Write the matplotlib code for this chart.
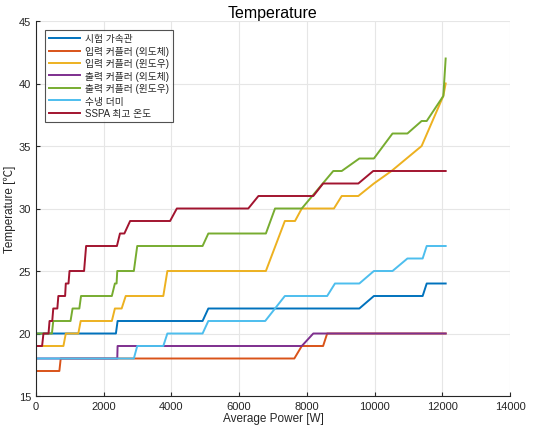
import matplotlib
matplotlib.use("Agg")
import matplotlib.pyplot as plt

plt.rcParams['font.family'] = ['Liberation Sans', 'Noto Sans CJK KR', 'DejaVu Sans']

labels = ['시험 가속관', '입력 커플러 (외도체)', '입력 커플러 (윈도우)', '출력 커플러 (외도체)',
          '출력 커플러 (윈도우)', '수냉 더미', 'SSPA 최고 온도']
colors = ['#0072BD', '#D95319', '#EDB120', '#7E2F8E', '#77AC30', '#4DBEEE', '#A2142F']

# 시험 가속관
accel_x = [0, 2360, 2410, 4920, 5090, 9550, 9980, 11420, 11540, 12100]
accel_y = [20, 20, 21, 21, 22, 22, 23, 23, 24, 24]
# 입력 커플러 (외도체)
in_outer_x = [0, 690, 730, 7630, 7850, 8480, 8600, 12100]
in_outer_y = [17, 17, 18, 18, 19, 19, 20, 20]
# 입력 커플러 (윈도우)
in_win_x = [0, 810, 880, 1250, 1320, 2240, 2330, 2530, 2650, 3760, 3880, 6790,
            7350, 7650, 7850, 8800, 9030, 9520, 9980, 10500, 11390, 12030, 12100]
in_win_y = [19, 19, 20, 20, 21, 21, 22, 22, 23, 23, 25, 25,
            29, 29, 30, 30, 31, 31, 32, 33, 35, 39, 40]
# 출력 커플러 (외도체)
out_outer_x = [0, 2400, 2410, 7850, 8190, 12100]
out_outer_y = [18, 18, 19, 19, 20, 20]
# 출력 커플러 (윈도우)
out_win_x = [0, 470, 510, 1020, 1080, 1280, 1330, 2240, 2330, 2380, 2400, 2890, 2990,
             4920, 5090, 6790, 7060, 7850, 8780, 9030, 9550, 9980, 10530, 10970,
             11390, 11540, 12030, 12100]
out_win_y = [20, 20, 21, 21, 22, 22, 23, 23, 24, 24, 25, 25, 27,
             27, 28, 28, 30, 30, 33, 33, 34, 34, 36, 36,
             37, 37, 39, 42]
# 수냉 더미
dummy_x = [0, 2890, 2990, 3760, 3880, 4920, 5090, 6770, 7350, 8600, 8830, 9550, 9980,
           10530, 10970, 11420, 11540, 12100]
dummy_y = [18, 18, 19, 19, 20, 20, 21, 21, 23, 23, 24, 24, 25,
           25, 26, 26, 27, 27]
# SSPA 최고 온도
sspa_x = [0, 180, 220, 370, 400, 480, 510, 630, 660, 860, 880, 960, 990, 1420, 1480,
          2390, 2480, 2610, 2780, 3960, 4160, 6270, 6570, 8190, 8480, 9520, 9960, 12100]
sspa_y = [19, 19, 20, 20, 21, 21, 22, 22, 23, 23, 24, 24, 25, 25, 27,
          27, 28, 28, 29, 29, 30, 30, 31, 31, 32, 32, 33, 33]

series = [(accel_x, accel_y), (in_outer_x, in_outer_y), (in_win_x, in_win_y),
          (out_outer_x, out_outer_y), (out_win_x, out_win_y), (dummy_x, dummy_y),
          (sspa_x, sspa_y)]

fig = plt.figure(figsize=(5.34, 4.35), dpi=100)
ax = fig.add_axes([36/534, 1-397/435, (510-36)/534, (397-22)/435])

for (xs, ys), lab, c in zip(series, labels, colors):
    ax.plot(xs, ys, color=c, lw=1.4, label=lab)

ax.set_xlim(0, 14000)
ax.set_ylim(15, 45)
ax.set_xticks(range(0, 14001, 2000))
ax.set_yticks(range(15, 46, 5))
ax.grid(True, color='#e6e6e6', lw=0.8)
ax.set_axisbelow(True)
for s in ['top', 'right']:
    ax.spines[s].set_visible(False)
for s in ['left', 'bottom']:
    ax.spines[s].set_color('#262626')
    ax.spines[s].set_linewidth(0.8)
ax.tick_params(direction='in', length=3, labelsize=8, colors='#262626')
ax.set_xlabel('Average Power [W]', fontsize=8.5, color='#262626', labelpad=1)
ax.set_ylabel('Temperature [℃]', fontsize=8.5, color='#262626', labelpad=2)
ax.set_title('Temperature', fontsize=11.5, color='#000000', pad=3)

leg = ax.legend(loc='upper left', fontsize=7, frameon=True, fancybox=False,
                borderpad=0.4, labelspacing=0.25, handlelength=3.2,
                handletextpad=0.6, bbox_to_anchor=(0.008, 0.99))
leg.get_frame().set_edgecolor('#262626')
leg.get_frame().set_linewidth(0.8)
for t in leg.get_texts():
    t.set_color('#262626')

fig.savefig('out.png', dpi=100)
